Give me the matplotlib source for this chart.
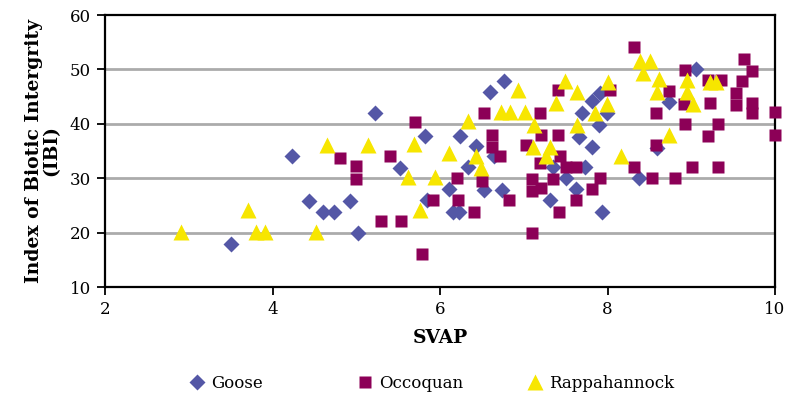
import matplotlib
matplotlib.use("Agg")
import matplotlib.pyplot as plt
from matplotlib.lines import Line2D

# ---- data ----
goose_x = [3.51, 4.23, 4.43, 4.60, 4.73, 4.93, 5.02, 5.22, 5.52, 5.82, 5.84, 6.11, 6.15, 6.23,
           6.24, 6.34, 6.43, 6.53, 6.60, 6.64, 6.74, 6.76, 7.31, 7.35, 7.50, 7.62, 7.66, 7.69,
           7.73, 7.81, 7.82, 7.90, 7.91, 7.94, 7.99, 8.38, 8.59, 8.74, 9.06]
goose_y = [17.9, 34.0, 25.9, 23.7, 23.7, 25.9, 19.9, 42.0, 31.9, 37.8, 26.0, 28.0, 23.7, 23.7,
           37.8, 32.0, 35.9, 27.8, 45.9, 34.0, 27.8, 47.9, 26.0, 32.1, 30.0, 28.0, 37.6, 41.9,
           32.1, 44.1, 35.8, 39.8, 45.6, 23.7, 41.9, 30.1, 35.6, 44.0, 50.0]

occ_x = [4.81, 5.00, 5.00, 5.30, 5.40, 5.53, 5.70, 5.79, 5.92, 6.20, 6.21, 6.41, 6.50, 6.52,
         6.62, 6.62, 6.72, 6.82, 7.03, 7.10, 7.10, 7.10, 7.19, 7.21, 7.19, 7.21, 7.35, 7.41,
         7.41, 7.43, 7.42, 7.51, 7.62, 7.62, 7.82, 7.91, 8.03, 8.32, 8.32, 8.53, 8.58, 8.58,
         8.74, 8.81, 8.92, 8.91, 8.92, 9.01, 9.20, 9.22, 9.20, 9.32, 9.32, 9.35, 9.53, 9.53,
         9.61, 9.63, 9.73, 9.73, 9.73, 10.0, 10.0]
occ_y = [33.8, 32.2, 29.9, 22.1, 34.0, 22.1, 40.3, 16.1, 26.0, 30.0, 26.0, 23.8, 29.5, 41.9,
         38.0, 35.7, 34.0, 26.0, 36.1, 29.9, 27.6, 19.9, 41.9, 38.0, 32.8, 28.2, 29.9, 46.2,
         37.9, 34.0, 23.7, 32.1, 32.1, 26.0, 28.0, 30.0, 46.3, 54.1, 32.0, 30.0, 41.9, 36.1,
         46.1, 30.0, 49.9, 43.6, 39.9, 32.0, 48.1, 43.8, 37.8, 39.9, 32.0, 48.1, 45.6, 43.5,
         47.9, 52.0, 49.7, 43.8, 42.0, 42.1, 37.9]

rap_x = [2.91, 3.71, 3.80, 3.91, 4.52, 4.65, 5.14, 5.62, 5.69, 5.76, 5.94, 6.11, 6.33, 6.43,
         6.49, 6.73, 6.83, 6.93, 7.01, 7.11, 7.12, 7.27, 7.31, 7.39, 7.49, 7.63, 7.63, 7.85,
         7.99, 8.00, 8.16, 8.39, 8.51, 8.42, 8.59, 8.62, 8.73, 8.95, 8.95, 9.02, 9.22, 9.30]
rap_y = [20.1, 24.2, 20.2, 20.2, 20.2, 36.1, 36.1, 30.3, 36.3, 24.2, 30.3, 34.6, 40.5, 34.0,
         31.8, 42.2, 42.2, 46.2, 42.2, 35.8, 39.8, 34.0, 35.8, 43.9, 47.9, 45.8, 39.7, 42.0,
         43.6, 47.7, 34.0, 51.6, 51.6, 49.4, 45.9, 48.3, 37.9, 48.1, 45.9, 43.6, 47.6, 47.6]

series_names = ["Goose", "Occoquan", "Rappahannock"]
x_ticks = [2, 4, 6, 8, 10]
y_ticks = [10, 20, 30, 40, 50, 60]

# ---- styles ----
c_goose = "#5457A6"
c_occ = "#8C0057"
c_rap = "#F7E600"
serif = "DejaVu Serif"
W, H = 788, 399

fig = plt.figure(figsize=(7.88, 3.99), dpi=100)
ax = fig.add_axes([105 / W, 1 - 287 / H, (775 - 105) / W, (287 - 15) / H])

styles = [
    dict(marker="D", ms=8, color=c_goose),
    dict(marker="s", ms=9, color=c_occ),
    dict(marker="^", ms=11.5, color=c_rap),
]
for (xs, ys), st, z in zip([(goose_x, goose_y), (occ_x, occ_y), (rap_x, rap_y)], styles, [3, 4, 5]):
    ax.plot(xs, ys, linestyle="none", mec="none", zorder=z, clip_on=False, **st)

ax.set_xlim(2, 10)
ax.set_ylim(10, 60)
ax.set_xticks(x_ticks)
ax.set_yticks(y_ticks)
ax.set_xticklabels([str(t) for t in x_ticks], fontfamily=serif, fontsize=12)
ax.set_yticklabels([str(t) for t in y_ticks], fontfamily=serif, fontsize=12)
ax.tick_params(direction="out", length=6, width=1.3, color="black", pad=4)

for y in [20, 30, 40, 50]:
    ax.axhline(y, color="#ABABAB", lw=2, zorder=1)

for s in ax.spines.values():
    s.set_linewidth(1.6)
    s.set_color("black")

ax.set_xlabel("SVAP", fontfamily=serif, fontweight="bold", fontsize=13.5, labelpad=8)
ax.set_ylabel("Index of Biotic Intergrity\n(IBI)", fontfamily=serif, fontweight="bold",
              fontsize=13.5, labelpad=7, linespacing=0.95)

# legend: one entry per position (marker centres at ~197, 365, 535 px)
marker_px = [197, 365, 535]
hl = 0.8  # handle length in font-size units
for name, st, mx in zip(series_names, styles, marker_px):
    h = Line2D([], [], linestyle="none", mec="none", **st)
    half = hl * 12 / 2 * 100 / 72
    leg = fig.legend([h], [name], loc="center left",
                     bbox_to_anchor=((mx - half) / W, 1 - 383 / H),
                     frameon=False, prop={"family": serif, "size": 12},
                     handlelength=hl, handletextpad=0.45, borderpad=0, borderaxespad=0)

fig.savefig("out.png", dpi=100)
